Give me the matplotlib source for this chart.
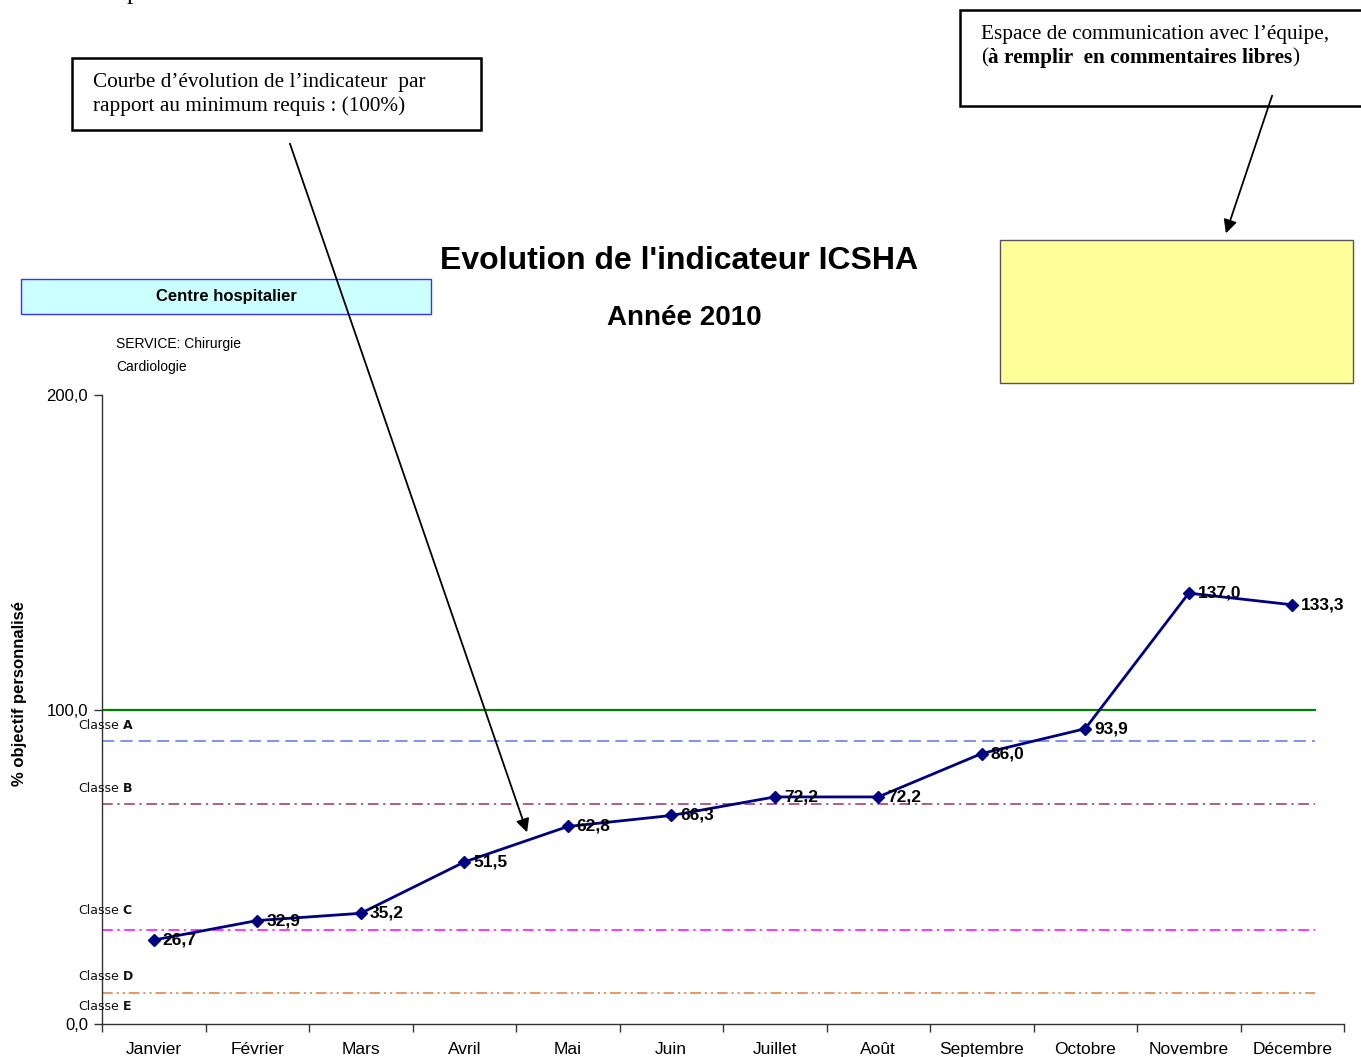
import matplotlib
matplotlib.use("Agg")
import matplotlib.pyplot as plt
from matplotlib.patches import Rectangle, FancyArrowPatch

# ---- data ----
months = ["Janvier", "Février", "Mars", "Avril", "Mai", "Juin", "Juillet",
          "Août", "Septembre", "Octobre", "Novembre", "Décembre"]
values = [26.7, 32.9, 35.2, 51.5, 62.8, 66.3, 72.2, 72.2, 86.0, 93.9, 137.0, 133.3]
objective = 100.0
class_levels = [90, 70, 30, 10]
class_names = ["A", "B", "C", "D", "E"]
class_label_y = [95, 75, 36, 15, 5.5]
ytick_vals = [0, 100, 200]
ytick_labels = ["0,0", "100,0", "200,0"]

W, H = 1361, 1057
fig = plt.figure(figsize=(W / 100, H / 100), dpi=100)
renderer = fig.canvas.get_renderer()

def fx(x):
    return x / W

def fy(y):
    return 1 - y / H

SANS = "Liberation Sans"
SERIF = "Liberation Serif"

ax = fig.add_axes([fx(102), fy(1024), fx(1344) - fx(102), fy(395) - fy(1024)])
xs = list(range(1, len(months) + 1))
ax.set_xlim(0.5, 12.5)
ax.set_ylim(0, 200)

# objective and class lines
ax.axhline(objective, xmin=0.0, xmax=0.977, color="#008000", lw=1.6, zorder=2)
styles = [
    dict(color="#5577EE", ls=(0, (8, 4)), lw=1.1),
    dict(color="#993366", ls=(0, (7, 3, 1.5, 3)), lw=1.1),
    dict(color="#FF00FF", ls=(0, (7, 3, 1.5, 3)), lw=1.1),
    dict(color="#E07A3A", ls=(0, (7, 2.5, 1.5, 2.5, 1.5, 2.5)), lw=1.1),
]
for lvl, st in zip(class_levels, styles):
    ax.axhline(lvl, xmin=0.0, xmax=0.977, zorder=2, **st)

# data series
ax.plot(xs, values, color="#000080", lw=2.0, marker="D", ms=6,
        markerfacecolor="#000080", markeredgecolor="#000080", zorder=4)
for x, v in zip(xs, values):
    ax.annotate(f"{v:.1f}".replace(".", ","), (x, v), xytext=(6.5, 0),
                textcoords="offset points", va="center", ha="left",
                fontsize=12.5, fontweight="bold", family=SANS, color="black", zorder=5)

# class labels ("Classe" normal + letter bold)
ytr = ax.get_yaxis_transform()
ax_w_px = 1242.0
for name, yl in zip(class_names, class_label_y):
    t = ax.text(-0.0193, yl, "Classe", transform=ytr, ha="left", va="center",
                fontsize=9, family="DejaVu Sans", color="#111111", clip_on=False)
    bb = t.get_window_extent(renderer)
    x_letter = (bb.x1 + 4 - 102) / ax_w_px
    ax.text(x_letter, yl, name, transform=ytr, ha="left", va="center",
            fontsize=9, family="DejaVu Sans", fontweight="bold", color="#111111",
            clip_on=False)

# axes styling
for s in ["top", "right"]:
    ax.spines[s].set_visible(False)
for s in ["left", "bottom"]:
    ax.spines[s].set_color("#333333")
    ax.spines[s].set_linewidth(1.0)
ax.set_yticks(ytick_vals)
ax.set_yticklabels(ytick_labels, fontsize=12, family=SANS)
ax.tick_params(axis="y", direction="out", length=6, width=1, color="#333333", pad=4)
ax.set_xticks([x + 0.5 for x in [0] + xs])
ax.set_xticklabels([])
ax.tick_params(axis="x", which="major", direction="out", length=6, width=1, color="#333333")
ax.set_xticks(xs, minor=True)
ax.set_xticklabels(months, minor=True, fontsize=12.5, family=SANS)
ax.tick_params(axis="x", which="minor", length=0, pad=13)

fig.text(fx(20), fy(693), "% objectif personnalisé", rotation=90, ha="center", va="center",
         fontsize=12, fontweight="bold", family=SANS)

# titles
fig.text(fx(679), fy(261), "Evolution de l'indicateur ICSHA", ha="center", va="center",
         fontsize=23, fontweight="bold", family=SANS)
fig.text(fx(684), fy(318), "Année 2010", ha="center", va="center",
         fontsize=20, fontweight="bold", family=SANS)

# Centre hospitalier box
fig.add_artist(Rectangle((fx(21), fy(314)), fx(431) - fx(21), fy(279) - fy(314),
                         transform=fig.transFigure, facecolor="#CCFFFF",
                         edgecolor="#3333FF", lw=1.0))
fig.text(fx(226), fy(296), "Centre hospitalier", ha="center", va="center",
         fontsize=12, fontweight="bold", family=SANS)
fig.text(fx(116), fy(344), "SERVICE: Chirurgie", ha="left", va="center",
         fontsize=10, family=SANS)
fig.text(fx(116), fy(367), "Cardiologie", ha="left", va="center",
         fontsize=10, family=SANS)

# yellow comment box
fig.add_artist(Rectangle((fx(1000), fy(383)), fx(1353) - fx(1000), fy(240) - fy(383),
                         transform=fig.transFigure, facecolor="#FFFF99",
                         edgecolor="#555555", lw=1.0))

SFS = 15.3
# left annotation box
fig.add_artist(Rectangle((fx(72), fy(130)), fx(481) - fx(72), fy(58) - fy(130),
                         transform=fig.transFigure, facecolor="white",
                         edgecolor="black", lw=1.8))
fig.text(fx(93), fy(82), "Courbe d\u2019évolution de l\u2019indicateur  par",
         ha="left", va="center", fontsize=SFS, family=SERIF)
fig.text(fx(93), fy(106), "rapport au minimum requis : (100%)",
         ha="left", va="center", fontsize=SFS, family=SERIF)

# right annotation box
fig.add_artist(Rectangle((fx(960), fy(106)), fx(1375) - fx(960), fy(10) - fy(106),
                         transform=fig.transFigure, facecolor="white",
                         edgecolor="black", lw=1.8, clip_on=False))
fig.text(fx(981), fy(34), "Espace de communication avec l\u2019équipe,",
         ha="left", va="center", fontsize=SFS, family=SERIF)
p1 = fig.text(fx(981), fy(58), "(", ha="left", va="center", fontsize=SFS, family=SERIF)
b1 = p1.get_window_extent(renderer)
p2 = fig.text(b1.x1 / W, fy(58), "à remplir  en commentaires libres", ha="left", va="center",
              fontsize=SFS, family=SERIF, fontweight="bold")
b2 = p2.get_window_extent(renderer)
fig.text(b2.x1 / W, fy(58), ")", ha="left", va="center", fontsize=SFS, family=SERIF)

# cut-off letter at top (as in the reference page)
fig.text(fx(127), fy(-1), "p", ha="left", va="baseline", fontsize=18, family=SERIF)

# arrows
for (x0, y0), (x1, y1) in [((289, 141), (528, 835)), ((1273, 93), (1225, 236))]:
    fig.add_artist(FancyArrowPatch((fx(x0), fy(y0)), (fx(x1), fy(y1)),
                                   transform=fig.transFigure, arrowstyle="-|>",
                                   mutation_scale=20, lw=1.3, color="black", zorder=10))

fig.savefig("out.png", dpi=100)
